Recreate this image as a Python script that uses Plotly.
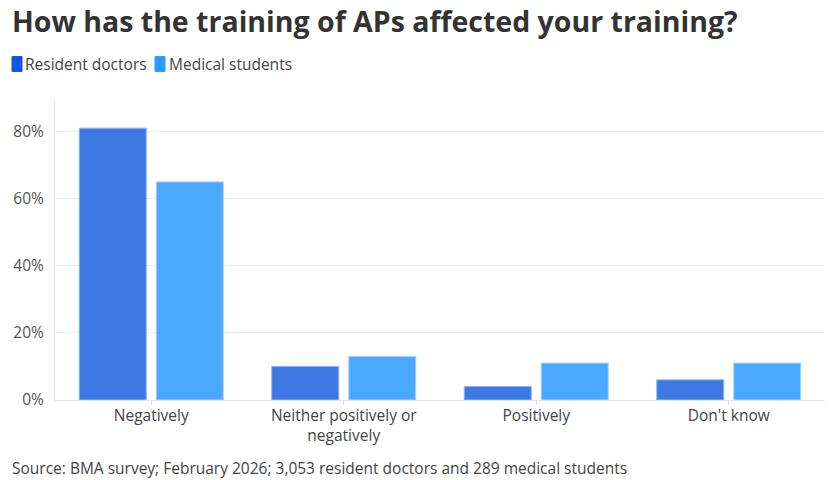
import plotly.graph_objects as go

categories = ["Negatively", "Neither positively or<br>negatively", "Positively", "Don't know"]
resident_doctors = [81, 10, 4, 6]
medical_students = [65, 13, 11, 11]
y_ticks = [0, 20, 40, 60, 80]
y_tick_labels = ["0%", "20%", "40%", "60%", "80%"]
series_names = ["Resident doctors", "Medical students"]

FONT = "Open Sans"
W, H = 840, 480
ml, mr, mt, mb = 55, 15, 98, 80
PW, PH = W - ml - mr, H - mt - mb


def px_x(px):
    return (px - ml) / PW


def px_y(py):
    return (H - mb - py) / PH


fig = go.Figure()
fig.add_trace(go.Bar(
    x=categories, y=resident_doctors, name=series_names[0],
    marker=dict(color="#3d78e3", line=dict(color="#8fb2f0", width=1)),
))
fig.add_trace(go.Bar(
    x=categories, y=medical_students, name=series_names[1],
    marker=dict(color="#4aa8ff", line=dict(color="#a5d3ff", width=1)),
))

fig.update_layout(
    width=W, height=H,
    margin=dict(l=ml, r=mr, t=mt, b=mb, autoexpand=False),
    paper_bgcolor="white", plot_bgcolor="white",
    barmode="group", bargap=0.2, bargroupgap=0.13,
    font=dict(family=FONT, color="#444", size=15.5),
    showlegend=False,
    title=dict(
        text="<b>How has the training of APs affected your training?</b>",
        x=12 / W, xanchor="left", xref="container", y=1 - 22 / H, yanchor="middle",
        yref="container",
        font=dict(family=FONT, size=28.5, color="#333"),
    ),
    xaxis=dict(
        automargin=False,
        showgrid=False, showline=True, linecolor="#e6e6e6", linewidth=1,
        ticks="outside", ticklen=4, tickcolor="#e0e0e0",
        tickfont=dict(size=15.5, color="#444"), ticklabelstandoff=-3,
    ),
    yaxis=dict(
        automargin=False,
        range=[0, 90], tickvals=y_ticks, ticktext=y_tick_labels,
        showgrid=True, gridcolor="#efefef", zeroline=False,
        showline=True, linecolor="#e6e6e6", linewidth=1,
        tickfont=dict(size=15.5, color="#555"), ticks="", ticklabelstandoff=7,
    ),
)

# legend (top-left), swatches + labels
legend_items = [(12, 23, "#1655e0", series_names[0]), (155, 167, "#2a9bff", series_names[1])]
for sx, tx, col, label in legend_items:
    fig.add_shape(
        type="rect", xref="paper", yref="paper",
        x0=px_x(sx), x1=px_x(sx + 10), y0=px_y(71.5), y1=px_y(56.5),
        fillcolor=col, line=dict(color=col, width=1),
    )
    fig.add_annotation(
        text=label, xref="paper", yref="paper", x=px_x(tx), xanchor="left",
        y=px_y(64), yanchor="middle", showarrow=False,
        font=dict(family=FONT, size=15.5, color="#444"),
    )

fig.add_annotation(
    text="Source: BMA survey; February 2026; 3,053 resident doctors and 289 medical students",
    xref="paper", yref="paper", x=px_x(10), xanchor="left",
    y=px_y(468), yanchor="middle", showarrow=False,
    font=dict(family=FONT, size=15.5, color="#444"),
)

fig.write_html(
    "out.html",
    config={"displayModeBar": False},
    post_script="document.body.style.margin='0px';document.body.style.overflow='hidden';",
)
